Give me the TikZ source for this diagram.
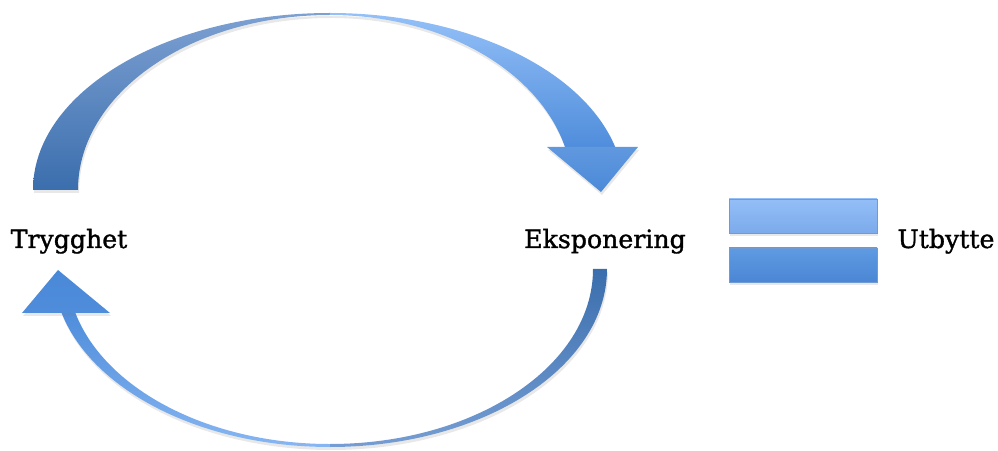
\documentclass[tikz,border=0pt]{standalone}
\usepackage{fontspec}
\setmainfont{DejaVu Serif}[FakeBold=1.3]
\usetikzlibrary{shadows}
\definecolor{backdark}{HTML}{3B6EAD}
\definecolor{backlight}{HTML}{7CA0D2}
\definecolor{frontlight}{HTML}{94C0F8}
\definecolor{frontdark}{HTML}{4F8DDB}
\definecolor{headblue}{HTML}{4A89D8}
\definecolor{bartop}{HTML}{93BEF7}
\definecolor{barbot}{HTML}{7CAAEB}
\definecolor{bar2top}{HTML}{5F9BE3}
\definecolor{bar2bot}{HTML}{4A86D3}
\definecolor{baredge}{HTML}{6F9AD3}
\tikzset{
  shad/.style={drop shadow={opacity=0.18, shadow xshift=1pt, shadow yshift=-3pt}},
  lbl/.style={font=\fontsize{25.2}{29}\selectfont, text=black, inner sep=0pt, anchor=base},
  barbox/.style={draw=baredge, line width=0.6pt, shad}
}
\begin{document}
\begin{tikzpicture}[x=1pt,y=1pt]
\useasboundingbox (0,0) rectangle (998,450);
% top arrow: back (left) part
\shade[shad, bottom color=backdark, top color=backlight]
  (33,260) arc[start angle=180,end angle=90,x radius=297,y radius=177]
  -- (330,435) arc[start angle=90,end angle=180,x radius=252,y radius=175] -- cycle;
% top arrow: front (right) part
\shade[shad, top color=frontlight, bottom color=frontdark]
  (330,437) arc[start angle=90,end angle=14.06,x radius=294,y radius=177]
  -- (565,303) arc[start angle=14.22,end angle=90,x radius=242.5,y radius=175] -- cycle;
\shade[shad, top color=frontdark!90!white, bottom color=headblue]
  (547,303) -- (638,303) -- (601,258) -- cycle;
% bottom arrow: back (right) part
\shade[shad, top color=backdark, bottom color=backlight!85!frontdark]
  (607,181) arc[start angle=0,end angle=-90,x radius=277,y radius=178]
  -- (330,6) arc[start angle=-90,end angle=0,x radius=263,y radius=175] -- cycle;
% bottom arrow: front (left) part
\shade[shad, bottom color=frontlight!80!frontdark, top color=frontdark]
  (330,3) arc[start angle=-90,end angle=-165.7,x radius=277,y radius=178]
  -- (75.4,137) arc[start angle=-165.44,end angle=-90,x radius=263,y radius=175] -- cycle;
\shade[shad, top color=headblue, bottom color=frontdark]
  (22,137) -- (110,137) -- (58,180) -- cycle;
% equals bars
\shade[barbox, top color=bartop, bottom color=barbot] (729,217) rectangle (877,251);
\shade[barbox, top color=bar2top, bottom color=bar2bot] (729,168) rectangle (877,202);
% labels
\node[lbl] (trygghet) at (69,202) {Trygghet};
\node[lbl] (eksponering) at (605,202) {Eksponering};
\node[lbl] (utbytte) at (946,202) {Utbytte};
\end{tikzpicture}
\end{document}
